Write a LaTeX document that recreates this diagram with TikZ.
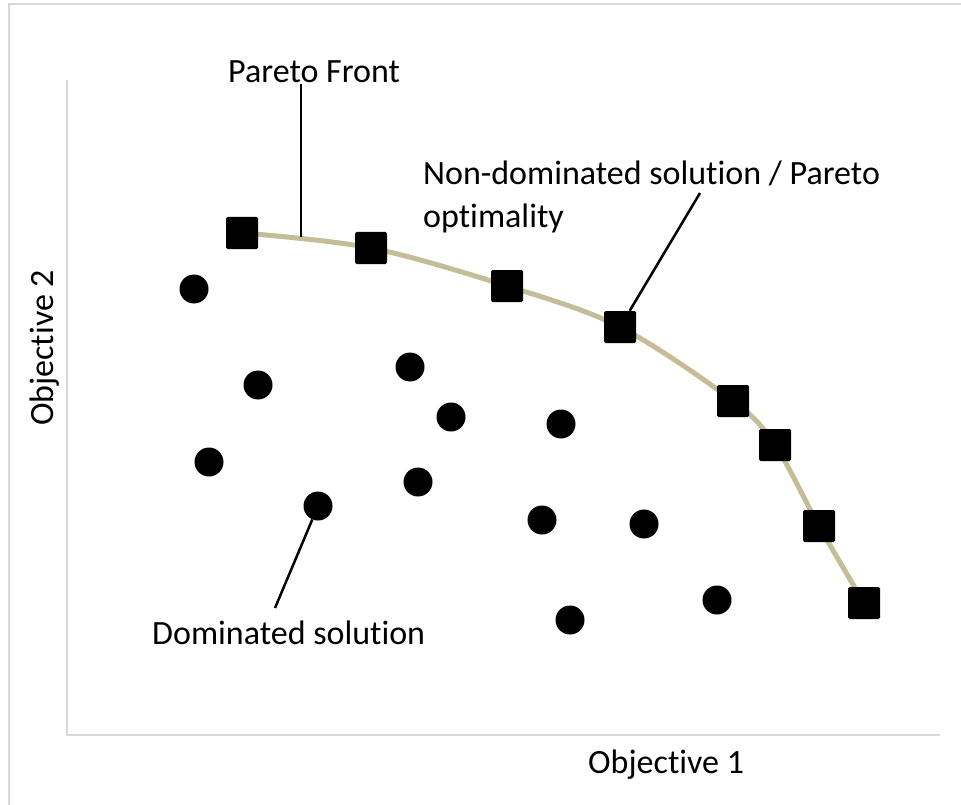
\documentclass[tikz,border=0pt]{standalone}
\usepackage{fontspec}
\setmainfont{Carlito}[RawFeature={-liga}]
\definecolor{gridgray}{HTML}{D9D9D9}
\definecolor{fronttan}{HTML}{C4BD97}
\tikzset{
  sol/.style={rectangle, fill=black, minimum size=32pt, inner sep=0pt, rounded corners=1.5pt},
  dom/.style={circle, fill=black, minimum size=29pt, inner sep=0pt},
  lbl/.style={inner sep=0pt, font=\fontsize{34pt}{43pt}\selectfont},
  leader/.style={line width=2.5pt, black},
  axisline/.style={line width=2pt, gridgray},
  frontline/.style={line width=5pt, fronttan},
}
\begin{document}
\begin{tikzpicture}[x=1pt, y=-1pt]
\useasboundingbox (0,0) rectangle (961,805);
\fill[white] (0,0) rectangle (961,805);

% outer frame (only its left and top sides fall inside the page)
\draw[axisline] (9,810) -- (9,4) -- (966,4);

% axes
\draw[axisline] (67,80) -- (67,735) -- (940,735);
\node[lbl, anchor=base west] (obj1) at (588,773) {Objective 1};
\node[lbl, rotate=90, anchor=base] (obj2) at (53,348) {Objective 2};

% Pareto front points
\coordinate (p1) at (242,233);
\coordinate (p2) at (371,248);
\coordinate (p3) at (507,286);
\coordinate (p4) at (620,327);
\coordinate (p5) at (733,401);
\coordinate (p6) at (775,445);
\coordinate (p7) at (819,526);
\coordinate (p8) at (864,603);

\draw[frontline] plot[smooth, tension=0.55] coordinates {(p1) (p2) (p3) (p4) (p5) (p6) (p7) (p8)};

\foreach \i in {1,...,8} \node[sol] (s\i) at (p\i) {};

% dominated solutions
\node[dom] (c1)  at (194,289) {};
\node[dom] (c2)  at (258,385) {};
\node[dom] (c3)  at (410,367) {};
\node[dom] (c4)  at (451,417) {};
\node[dom] (c5)  at (561,424) {};
\node[dom] (c6)  at (209,462) {};
\node[dom] (c7)  at (318,506) {};
\node[dom] (c8)  at (418,482) {};
\node[dom] (c9)  at (542,520) {};
\node[dom] (c10) at (644,524) {};
\node[dom] (c11) at (570,620) {};
\node[dom] (c12) at (717,600) {};

% labels and leader lines
\node[lbl, anchor=base west] (pf) at (228,83) {Pareto Front};
\coordinate (pftop) at (301,84);
\coordinate (pfcurve) at (301,237);
\draw[leader] (pftop) -- (pfcurve);

\node[lbl, anchor=base west] (nd1) at (423,185) {Non-dominated solution / Pareto};
\node[lbl, anchor=base west] (nd2) at (423,228) {optimality};
\coordinate (ndend) at (700,193);
\draw[leader] (ndend) -- (s4);

\node[lbl, anchor=base west] (dl) at (152,644) {Dominated solution};
\coordinate (dlend) at (275,608);
\draw[leader] (dlend) -- (c7);
\end{tikzpicture}
\end{document}
